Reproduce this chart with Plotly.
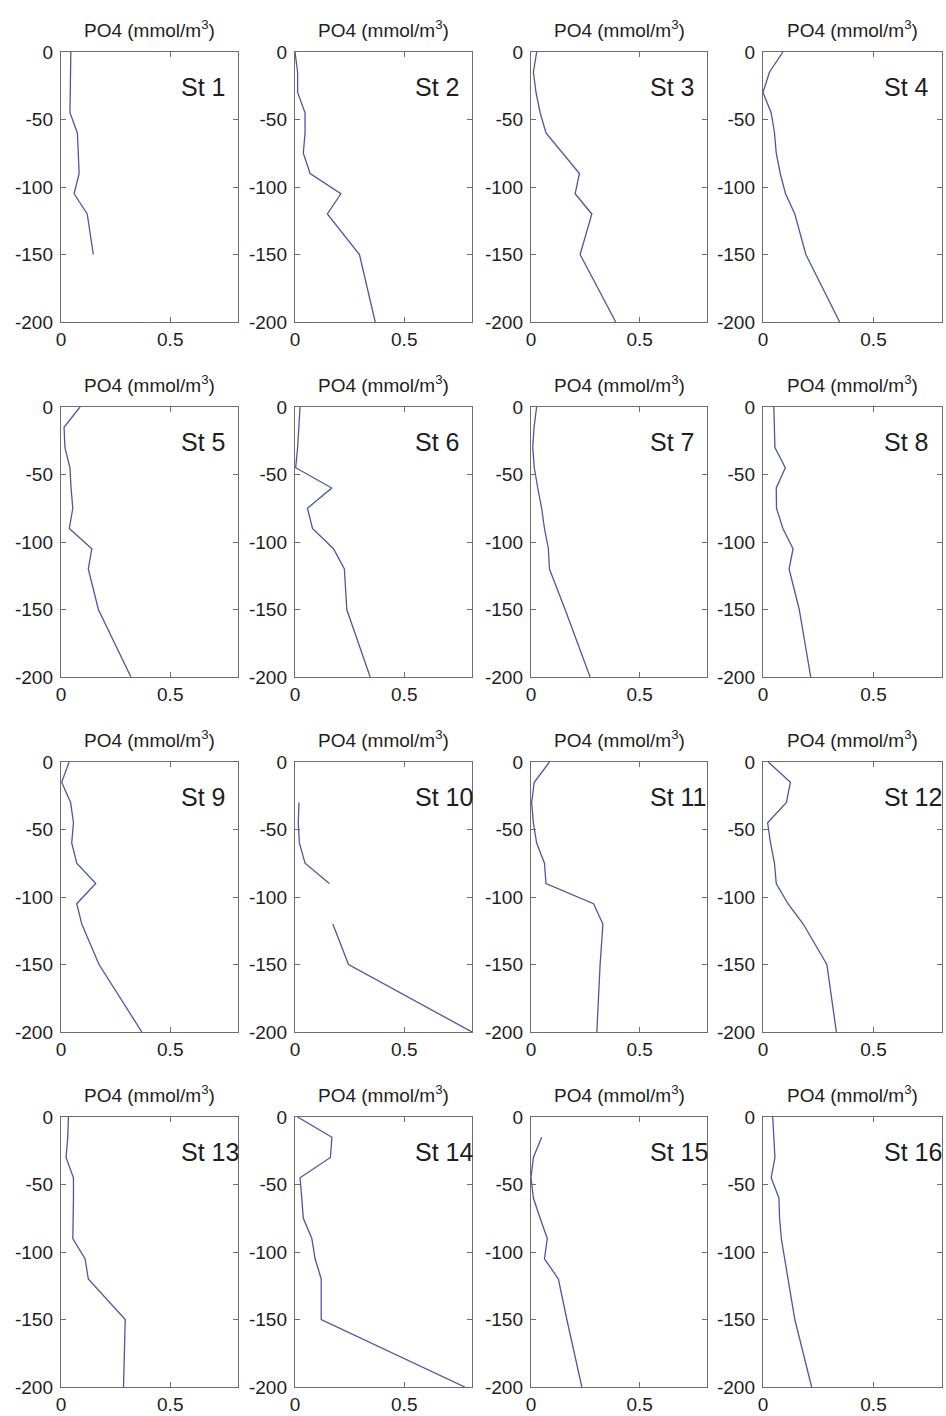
import plotly.graph_objects as go
from plotly.subplots import make_subplots

# Sampling depths (m)
depths = [0, -15, -30, -45, -60, -75, -90, -105, -120, -150, -200]

# PO4 (mmol/m3) per station at the depths above (None = missing)
st1 = [0.045, 0.044, 0.043, 0.041, 0.075, 0.080, 0.083, 0.060, 0.120, 0.148, None]
st2 = [0.000, 0.012, 0.012, 0.046, 0.046, 0.038, 0.069, 0.210, 0.148, 0.295, 0.367]
st3 = [0.026, 0.011, 0.023, 0.042, 0.069, 0.146, 0.223, 0.203, 0.280, 0.226, 0.390]
st4 = [0.090, 0.029, 0.000, 0.037, 0.052, 0.060, 0.078, 0.102, 0.144, 0.194, 0.347]
st5 = [0.087, 0.014, 0.018, 0.041, 0.046, 0.054, 0.038, 0.141, 0.125, 0.171, 0.320]
st6 = [0.023, 0.018, 0.012, 0.003, 0.168, 0.057, 0.080, 0.176, 0.226, 0.237, 0.344]
st7 = [0.026, 0.014, 0.008, 0.015, 0.031, 0.049, 0.062, 0.080, 0.085, 0.157, 0.272]
st8 = [0.049, 0.052, 0.054, 0.101, 0.060, 0.061, 0.090, 0.136, 0.118, 0.164, 0.216]
st9 = [0.037, 0.003, 0.044, 0.057, 0.049, 0.072, 0.159, 0.072, 0.095, 0.174, 0.370]
st10 = [None, None, 0.018, 0.015, 0.020, 0.046, 0.157, None, 0.173, 0.245, 0.810]
st11 = [0.085, 0.015, 0.003, 0.011, 0.026, 0.062, 0.069, 0.288, 0.331, 0.318, 0.303]
st12 = [0.024, 0.124, 0.106, 0.021, 0.034, 0.052, 0.060, 0.113, 0.182, 0.289, 0.332]
st13 = [0.034, 0.031, 0.023, 0.057, 0.057, 0.057, 0.054, 0.110, 0.125, 0.294, 0.286]
st14 = [0.012, 0.169, 0.162, 0.023, 0.031, 0.038, 0.077, 0.092, 0.120, 0.120, 0.777]
st15 = [None, 0.049, 0.011, 0.000, 0.011, 0.042, 0.075, 0.062, 0.126, 0.165, 0.234]
st16 = [0.044, 0.049, 0.054, 0.037, 0.072, 0.075, 0.083, 0.098, 0.113, 0.144, 0.220]

stations = [st1, st2, st3, st4, st5, st6, st7, st8,
            st9, st10, st11, st12, st13, st14, st15, st16]
station_labels = [f"St {i}" for i in range(1, 17)]
panel_title = "PO4 (mmol/m<sup>3</sup>)"

x_tickvals = [0, 0.5]
x_ticktext = ["0", "0.5"]
y_tickvals = [0, -50, -100, -150, -200]
y_ticktext = ["0", "-50", "-100", "-150", "-200"]

W, H = 946, 1416
col_px = [(61, 238), (295, 472), (531, 707), (763, 942)]
row_px = [(52, 322), (407, 677), (762, 1032), (1117, 1387)]

fig = make_subplots(rows=4, cols=4)

line_color = "#5252a8"
axis_color = "#6e6e6e"
text_color = "#1e1e1e"
font_family = "Liberation Sans, Arial, Helvetica, sans-serif"

for k, vals in enumerate(stations):
    r, c = divmod(k, 4)
    fig.add_trace(
        go.Scatter(x=vals, y=depths, mode="lines",
                   line=dict(color=line_color, width=1.3),
                   showlegend=False, connectgaps=False),
        row=r + 1, col=c + 1)

for k in range(16):
    r, c = divmod(k, 4)
    idx = "" if k == 0 else str(k + 1)
    x0, x1 = col_px[c]
    y0, y1 = row_px[r]
    xd = [x0 / W, x1 / W]
    yd = [1 - y1 / H, 1 - y0 / H]
    fig.layout["xaxis" + idx].update(
        domain=xd, range=[0, 0.81], tickvals=x_tickvals, ticktext=x_ticktext,
        automargin=False,
        showgrid=False, zeroline=False, showline=True, linecolor=axis_color,
        linewidth=1.4, mirror="ticks", ticks="inside", ticklen=5,
        tickcolor=axis_color, tickfont=dict(size=19, color=text_color, family=font_family))
    fig.layout["yaxis" + idx].update(
        domain=yd, range=[-200, 0], tickvals=y_tickvals, ticktext=y_ticktext,
        automargin=False, ticklabelstandoff=3,
        showgrid=False, zeroline=False, showline=True, linecolor=axis_color,
        linewidth=1.4, mirror="ticks", ticks="inside", ticklen=5,
        tickcolor=axis_color, tickfont=dict(size=19, color=text_color, family=font_family))
    # panel title
    fig.add_annotation(
        text=panel_title, xref="paper", yref="paper",
        x=(xd[0] + xd[1]) / 2, y=yd[1], xanchor="center", yanchor="bottom",
        yshift=9, showarrow=False,
        font=dict(size=19, color=text_color, family=font_family))
    # station label
    fig.add_annotation(
        text=station_labels[k], xref="x" + idx, yref="y" + idx,
        x=0.54, y=-26, xanchor="left", yanchor="middle", showarrow=False,
        font=dict(size=25, color=text_color, family=font_family))

fig.update_layout(
    width=W, height=H,
    margin=dict(l=0, r=0, t=0, b=0, autoexpand=False),
    paper_bgcolor="white", plot_bgcolor="white",
    font=dict(family=font_family),
)

fig.write_html(
    "out.html",
    config={"displayModeBar": False},
    post_script="document.body.style.margin='0';document.body.style.padding='0';"
                "document.body.style.overflow='hidden';",
)
